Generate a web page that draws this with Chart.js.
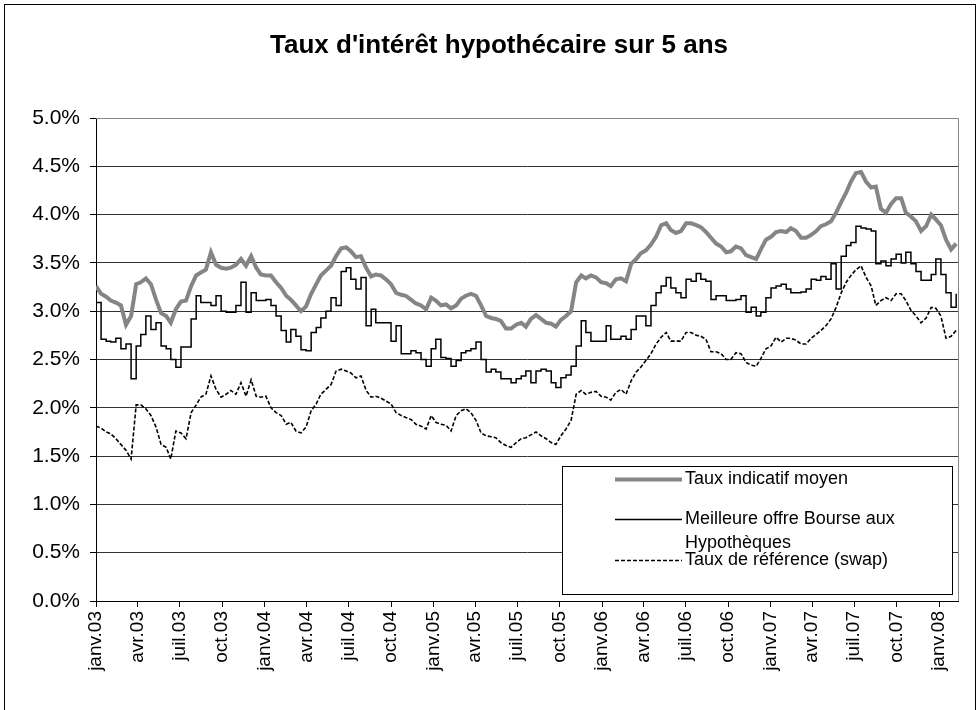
<!DOCTYPE html>
<html>
<head>
<meta charset="utf-8">
<title>Taux d'intérêt hypothécaire sur 5 ans</title>
<script src="https://cdn.jsdelivr.net/npm/chart.js@4.4.1/dist/chart.umd.min.js"></script>
<style>
  html, body { margin: 0; padding: 0; background: #fff; }
  #wrap { width: 979px; height: 710px; position: relative; }
</style>
</head>
<body>
<div id="wrap"><canvas id="chart"></canvas></div>
<script>
// days since 1 Jan 2003
const days = [
  0, 11, 22, 32, 43, 54, 65, 76, 87, 97, 108, 119, 130, 141,
  152, 162, 173, 184, 195, 206, 217, 227, 238, 249, 260, 271, 282, 292,
  303, 314, 325, 336, 347, 357, 368,
  379, 390, 401, 412, 422, 433, 444, 455, 466, 477, 487, 498, 509, 520,
  531, 542, 552, 563, 574, 585, 596, 606, 617, 628, 639, 650, 661, 671,
  682, 693, 704, 715, 726, 736, 747,
  758, 769, 780, 791, 801, 812, 823, 834, 845, 856, 866, 877, 888, 899,
  910, 921, 931, 942, 953, 964, 975, 986, 996, 1007, 1018, 1029, 1040, 1051,
  1061, 1072, 1083, 1094, 1105, 1115, 1126,
  1137, 1148, 1159, 1170, 1180, 1191, 1202, 1213, 1224, 1235, 1245, 1256, 1267, 1278,
  1289, 1300, 1310, 1321, 1332, 1343, 1354, 1365, 1375, 1386, 1397, 1408, 1419, 1430,
  1440, 1451, 1462, 1473, 1484, 1495, 1505,
  1516, 1527, 1538, 1549, 1560, 1570, 1581, 1592, 1603, 1614, 1625, 1635, 1646, 1657,
  1668, 1679, 1689, 1700, 1711, 1722, 1733, 1744, 1754, 1765, 1776, 1787, 1798, 1809,
  1819, 1830, 1841, 1852, 1863
];

const tauxIndicatif = [
  3.26, 3.18, 3.15, 3.11, 3.09, 3.06, 2.86, 2.95, 3.28, 3.30, 3.34, 3.28, 3.12, 2.98,
  2.95, 2.88, 3.02, 3.10, 3.11, 3.26, 3.37, 3.40, 3.43, 3.61, 3.48, 3.45, 3.44, 3.45,
  3.48, 3.54, 3.47, 3.57, 3.45, 3.38, 3.37,
  3.37, 3.30, 3.24, 3.16, 3.12, 3.06, 3.00, 3.05, 3.18, 3.28, 3.37, 3.42, 3.47, 3.57,
  3.65, 3.66, 3.62, 3.56, 3.57, 3.45, 3.36, 3.38, 3.37, 3.33, 3.28, 3.19, 3.17, 3.16,
  3.12, 3.08, 3.06, 3.02, 3.14, 3.11, 3.06,
  3.07, 3.03, 3.06, 3.13, 3.16, 3.18, 3.16, 3.06, 2.95, 2.93, 2.92, 2.90, 2.82, 2.82,
  2.86, 2.88, 2.84, 2.92, 2.96, 2.92, 2.88, 2.87, 2.84, 2.91, 2.95, 3.00, 3.30, 3.37,
  3.34, 3.37, 3.35, 3.30, 3.29, 3.26, 3.33,
  3.34, 3.31, 3.49, 3.54, 3.60, 3.63, 3.69, 3.77, 3.89, 3.91, 3.84, 3.81, 3.83, 3.91,
  3.91, 3.89, 3.87, 3.82, 3.76, 3.70, 3.67, 3.61, 3.62, 3.67, 3.65, 3.58, 3.56, 3.54,
  3.64, 3.74, 3.77, 3.82, 3.83, 3.82, 3.86,
  3.83, 3.76, 3.76, 3.79, 3.83, 3.88, 3.90, 3.93, 4.02, 4.13, 4.23, 4.34, 4.43, 4.44,
  4.34, 4.28, 4.29, 4.06, 4.02, 4.11, 4.17, 4.17, 4.02, 3.98, 3.93, 3.83, 3.88, 4.00,
  3.95, 3.89, 3.74, 3.64, 3.70
];

const meilleureOffre = [
  3.09, 2.71, 2.69, 2.68, 2.72, 2.61, 2.66, 2.30, 2.64, 2.76, 2.95, 2.81, 2.88, 2.64,
  2.61, 2.50, 2.42, 2.63, 2.63, 2.92, 3.16, 3.09, 3.09, 3.06, 3.16, 3.00, 2.99, 2.99,
  3.06, 3.30, 2.99, 3.19, 3.11, 3.11, 3.12,
  3.06, 2.95, 2.80, 2.68, 2.81, 2.74, 2.60, 2.59, 2.78, 2.83, 2.93, 3.00, 3.14, 3.06,
  3.41, 3.45, 3.33, 3.23, 3.35, 2.85, 3.02, 2.88, 2.88, 2.88, 2.69, 2.85, 2.56, 2.56,
  2.59, 2.57, 2.50, 2.43, 2.61, 2.71, 2.52,
  2.51, 2.43, 2.49, 2.57, 2.59, 2.61, 2.68, 2.50, 2.37, 2.40, 2.37, 2.30, 2.30, 2.26,
  2.30, 2.33, 2.38, 2.26, 2.38, 2.40, 2.38, 2.26, 2.21, 2.31, 2.34, 2.43, 2.64, 2.90,
  2.78, 2.69, 2.69, 2.69, 2.85, 2.71, 2.71,
  2.74, 2.71, 2.81, 2.95, 2.95, 2.85, 3.06, 3.19, 3.26, 3.35, 3.24, 3.19, 3.14, 3.33,
  3.31, 3.39, 3.33, 3.31, 3.12, 3.16, 3.16, 3.11, 3.11, 3.12, 3.16, 2.99, 3.04, 2.95,
  2.99, 3.14, 3.24, 3.26, 3.28, 3.23, 3.19,
  3.19, 3.20, 3.23, 3.33, 3.32, 3.36, 3.33, 3.49, 3.23, 3.57, 3.68, 3.71, 3.88, 3.86,
  3.85, 3.83, 3.49, 3.52, 3.47, 3.54, 3.59, 3.50, 3.61, 3.49, 3.41, 3.32, 3.32, 3.38,
  3.54, 3.38, 3.19, 3.04, 3.18
];

const tauxSwap = [
  1.81, 1.79, 1.75, 1.73, 1.68, 1.62, 1.56, 1.47, 2.03, 2.03, 1.99, 1.92, 1.80, 1.62,
  1.59, 1.47, 1.76, 1.74, 1.68, 1.95, 2.03, 2.11, 2.14, 2.33, 2.19, 2.11, 2.14, 2.18,
  2.14, 2.26, 2.12, 2.29, 2.12, 2.11, 2.12,
  2.00, 1.95, 1.92, 1.83, 1.85, 1.76, 1.74, 1.80, 1.97, 2.04, 2.14, 2.19, 2.24, 2.38,
  2.40, 2.38, 2.36, 2.31, 2.33, 2.18, 2.11, 2.12, 2.10, 2.07, 2.04, 1.95, 1.92, 1.90,
  1.88, 1.83, 1.81, 1.78, 1.92, 1.85, 1.83,
  1.82, 1.76, 1.92, 1.97, 1.99, 1.95, 1.87, 1.74, 1.71, 1.70, 1.69, 1.64, 1.61, 1.59,
  1.64, 1.68, 1.69, 1.72, 1.75, 1.71, 1.68, 1.64, 1.62, 1.71, 1.78, 1.87, 2.14, 2.18,
  2.14, 2.16, 2.17, 2.12, 2.11, 2.08, 2.16,
  2.19, 2.14, 2.28, 2.37, 2.42, 2.49, 2.56, 2.66, 2.73, 2.78, 2.69, 2.69, 2.69, 2.78,
  2.78, 2.75, 2.74, 2.71, 2.58, 2.58, 2.56, 2.50, 2.50, 2.57, 2.56, 2.47, 2.44, 2.43,
  2.51, 2.61, 2.64, 2.73, 2.68, 2.72, 2.72,
  2.70, 2.66, 2.66, 2.72, 2.76, 2.80, 2.85, 2.92, 3.04, 3.19, 3.30, 3.37, 3.43, 3.47,
  3.35, 3.26, 3.06, 3.11, 3.14, 3.11, 3.18, 3.18, 3.11, 3.01, 2.95, 2.88, 2.93, 3.04,
  3.03, 2.95, 2.72, 2.74, 2.80
];

const tickDays = [0, 90, 181, 273, 365, 456, 547, 639, 731, 821, 912, 1004,
  1096, 1186, 1277, 1369, 1461, 1551, 1642, 1734, 1826];
const tickLabels = ["janv.03", "avr.03", "juil.03", "oct.03", "janv.04", "avr.04",
  "juil.04", "oct.04", "janv.05", "avr.05", "juil.05", "oct.05", "janv.06", "avr.06",
  "juil.06", "oct.06", "janv.07", "avr.07", "juil.07", "oct.07", "janv.08"];

const seriesNames = ["Taux indicatif moyen", "Meilleure offre Bourse aux Hypothèques",
  "Taux de référence (swap)"];
const chartTitle = "Taux d'intérêt hypothécaire sur 5 ans";

const FONT = '"Liberation Sans", Arial, sans-serif';

const toPoints = (vals) => vals.map((v, i) => ({ x: days[i], y: v }));

// page frame, title, plot border and the boxed legend
const decor = {
  id: "decor",
  beforeDraw(chart) {
    const { ctx, width, height } = chart;
    ctx.save();
    ctx.fillStyle = "#fff";
    ctx.fillRect(0, 0, width, height);
    ctx.strokeStyle = "#000";
    ctx.lineWidth = 1;
    ctx.strokeRect(4.5, 4.5, 971, 720);
    ctx.fillStyle = "#000";
    ctx.font = "bold 26px " + FONT;
    ctx.textAlign = "center";
    ctx.fillText(chartTitle, 499, 53);
    ctx.restore();
  },
  beforeDatasetsDraw(chart) {
    const { ctx, chartArea: a } = chart;
    ctx.save();
    ctx.strokeStyle = "#888";
    ctx.lineWidth = 1;
    ctx.beginPath();
    ctx.moveTo(a.left, Math.round(a.top) + 0.5);
    ctx.lineTo(Math.round(a.right) + 0.5, Math.round(a.top) + 0.5);
    ctx.lineTo(Math.round(a.right) + 0.5, a.bottom);
    ctx.stroke();
    ctx.restore();
  },
  afterDraw(chart) {
    const { ctx } = chart;
    const box = { x: 562, y: 466, w: 390, h: 128 };
    const rowsY = [479, 519, 560];
    ctx.save();
    ctx.fillStyle = "#fff";
    ctx.fillRect(box.x, box.y, box.w, box.h);
    ctx.strokeStyle = "#000";
    ctx.lineWidth = 1;
    ctx.strokeRect(box.x + 0.5, box.y + 0.5, box.w, box.h);
    ctx.font = "18px " + FONT;
    ctx.textBaseline = "middle";
    chart.data.datasets.forEach((ds, i) => {
      const y = rowsY[i];
      ctx.save();
      ctx.strokeStyle = ds.borderColor;
      ctx.lineWidth = ds.borderWidth;
      ctx.setLineDash(ds.borderDash || []);
      ctx.beginPath();
      ctx.moveTo(615, y + 0.5);
      ctx.lineTo(682, y + 0.5);
      ctx.stroke();
      ctx.restore();
      // wrap long names like Excel does
      const words = ds.label.split(" ");
      const lines = [];
      let cur = "";
      words.forEach((w) => {
        const test = cur ? cur + " " + w : w;
        if (ctx.measureText(test).width > 255 && cur) {
          lines.push(cur);
          cur = w;
        } else cur = test;
      });
      lines.push(cur);
      ctx.fillStyle = "#000";
      lines.forEach((t, k) => ctx.fillText(t, 685, y + k * 24));
    });
    ctx.restore();
  },
};

new Chart(document.getElementById("chart"), {
  type: "line",
  data: {
    datasets: [
      {
        label: seriesNames[0],
        data: toPoints(tauxIndicatif),
        borderColor: "#858585",
        borderWidth: 4,
        pointRadius: 0,
        order: 3,
      },
      {
        label: seriesNames[1],
        data: toPoints(meilleureOffre),
        borderColor: "#000",
        borderWidth: 1.5,
        pointRadius: 0,
        stepped: true,
        order: 2,
      },
      {
        label: seriesNames[2],
        data: toPoints(tauxSwap),
        borderColor: "#000",
        borderWidth: 1.6,
        borderDash: [4, 2],
        pointRadius: 0,
        order: 1,
      },
    ],
  },
  options: {
    animation: false,
    responsive: true,
    maintainAspectRatio: false,
    layout: { padding: { top: 118, right: 21, left: 0, bottom: 0 } },
    plugins: {
      legend: { display: false },
      tooltip: { enabled: false },
    },
    scales: {
      x: {
        type: "linear",
        min: 0,
        max: 1867,
        afterBuildTicks: (s) => {
          s.ticks = tickDays.map((v) => ({ value: v }));
        },
        afterFit: (s) => {
          s.height = 109;
        },
        ticks: {
          autoSkip: false,
          minRotation: 90,
          maxRotation: 90,
          padding: 4,
          color: "#000",
          font: { family: FONT, size: 19 },
          callback: (v, i) => tickLabels[i],
        },
        grid: { drawOnChartArea: false, drawTicks: true, tickLength: 6, color: "#000" },
        border: { color: "#000", width: 1 },
      },
      y: {
        min: 0,
        max: 5,
        afterFit: (s) => {
          s.width = 96;
        },
        ticks: {
          stepSize: 0.5,
          padding: 10,
          color: "#000",
          font: { family: FONT, size: 21 },
          callback: (v) => v.toFixed(1) + "%",
        },
        grid: { color: "#333", tickLength: 6, tickColor: "#000" },
        border: { color: "#000", width: 1 },
      },
    },
  },
  plugins: [decor],
});
</script>
</body>
</html>
